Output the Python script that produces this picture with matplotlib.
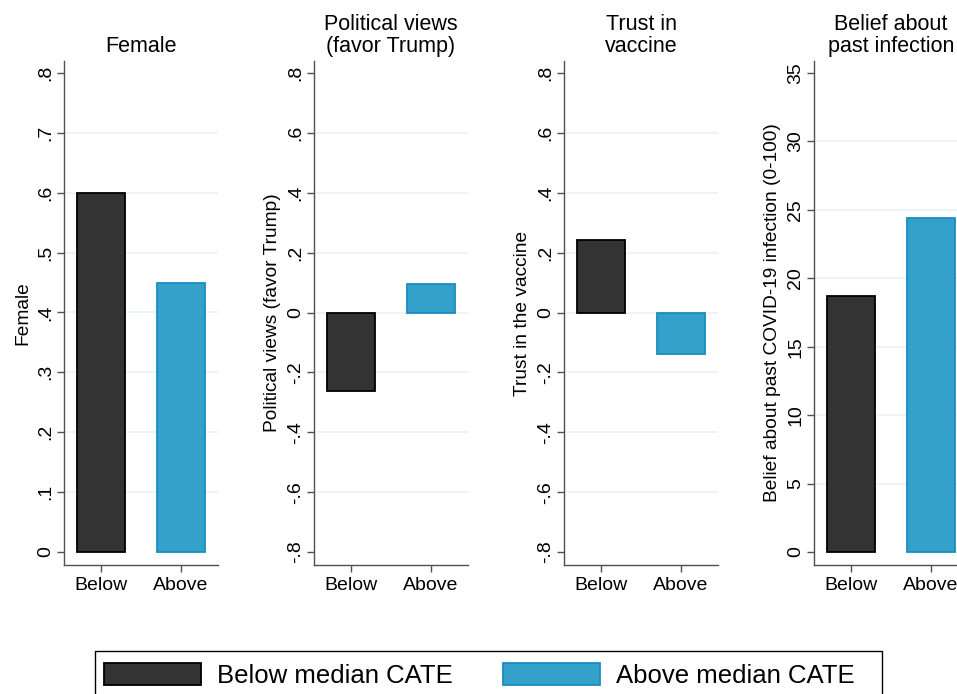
import matplotlib
matplotlib.use("Agg")
import matplotlib.pyplot as plt
from matplotlib.patches import Patch, Rectangle

plt.rcParams['font.family'] = ['Liberation Sans', 'DejaVu Sans']

# ---------------- data ----------------
categories = ["Below", "Above"]
female = [0.600, 0.449]
political = [-0.263, 0.095]
trust = [0.243, -0.140]
belief = [18.7, 24.4]

titles = ["Female", "Political views\n(favor Trump)", "Trust in\nvaccine", "Belief about\npast infection"]
ylabels = ["Female", "Political views (favor Trump)", "Trust in the vaccine",
           "Belief about past COVID-19 infection (0-100)"]

ticks_female = [0, 0.1, 0.2, 0.3, 0.4, 0.5, 0.6, 0.7, 0.8]
labels_female = ["0", ".1", ".2", ".3", ".4", ".5", ".6", ".7", ".8"]
ticks_pm = [-0.8, -0.6, -0.4, -0.2, 0, 0.2, 0.4, 0.6, 0.8]
labels_pm = ["-.8", "-.6", "-.4", "-.2", "0", ".2", ".4", ".6", ".8"]
ticks_belief = [0, 5, 10, 15, 20, 25, 30, 35]
labels_belief = ["0", "5", "10", "15", "20", "25", "30", "35"]

legend_labels = ["Below median CATE", "Above median CATE"]

# ---------------- style ----------------
W, H = 957, 694
fig = plt.figure(figsize=(W / 100, H / 100), dpi=100)

col_below, edge_below = "#333333", "#000000"
col_above, edge_above = "#33a1c9", "#1a8dbf"
spine_col = "#505050"
grid_col = "#eef4f6"

axis_left_px = [64, 314, 564, 814]
ax_w_px, ax_top_px, ax_bot_px = 154, 61, 565

series = [female, political, trust, belief]
yticks = [ticks_female, ticks_pm, ticks_pm, ticks_belief]
yticklabels = [labels_female, labels_pm, labels_pm, labels_belief]
ylims = [(-0.0217, 0.820), (-0.843, 0.840), (-0.843, 0.840), (-0.95, 35.877)]

xpos = list(range(len(categories)))

for i in range(4):
    ax = fig.add_axes([axis_left_px[i] / W, 1 - ax_bot_px / H,
                       ax_w_px / W, (ax_bot_px - ax_top_px) / H])
    vals = series[i]
    ax.bar(xpos, vals, width=0.61, color=[col_below, col_above],
           edgecolor=[edge_below, edge_above], linewidth=1.3, zorder=3)
    ax.set_xlim(-0.4625, 1.4625)
    ax.set_ylim(*ylims[i])
    ax.set_xticks(xpos)
    ax.set_xticklabels(categories, fontsize=14)
    ax.set_yticks(yticks[i])
    ax.set_yticklabels(yticklabels[i], fontsize=14, rotation=90, va="center")
    for s in ["top", "right"]:
        ax.spines[s].set_visible(False)
    for s in ["left", "bottom"]:
        ax.spines[s].set_color(spine_col)
        ax.spines[s].set_linewidth(1.0)
    ax.tick_params(axis="both", colors=spine_col, labelcolor="black",
                   length=5, width=1.0)
    ax.tick_params(axis="y", pad=2.2)
    ax.tick_params(axis="x", pad=3.6)
    ax.yaxis.grid(True, color=grid_col, linewidth=1.5, zorder=0)
    ax.set_axisbelow(True)
    ticks = ax.yaxis.get_major_ticks()
    ticks[0].gridline.set_visible(False)
    ticks[-1].gridline.set_visible(False)
    ax.set_ylabel(ylabels[i], fontsize=13.8)
    ax.yaxis.set_label_coords(-0.212, 0.5)
    ax.annotate(titles[i], xy=(0.5, 1.0), xycoords="axes fraction",
                xytext=(0, 3.2), textcoords="offset points",
                ha="center", va="bottom", fontsize=15.5, linespacing=1.05)

# ---------------- legend ----------------
handles = [Patch(facecolor=col_below, edgecolor=edge_below, linewidth=1.3),
           Patch(facecolor=col_above, edgecolor=edge_above, linewidth=1.3)]
fs_leg = 18.5
fig.legend(handles, legend_labels, loc="upper left",
           bbox_to_anchor=(104 / W, 1 - 663 / H), ncol=2, frameon=False,
           fontsize=fs_leg, borderpad=0, borderaxespad=0,
           handlelength=3.77, handleheight=0.97, handletextpad=0.62,
           columnspacing=1.98)
frame = Rectangle((95 / W, 1 - 720 / H), (882 - 95) / W, (720 - 651) / H,
                  transform=fig.transFigure, fill=False, edgecolor="black",
                  linewidth=1.0)
fig.add_artist(frame)

fig.savefig("out.png", dpi=100)
